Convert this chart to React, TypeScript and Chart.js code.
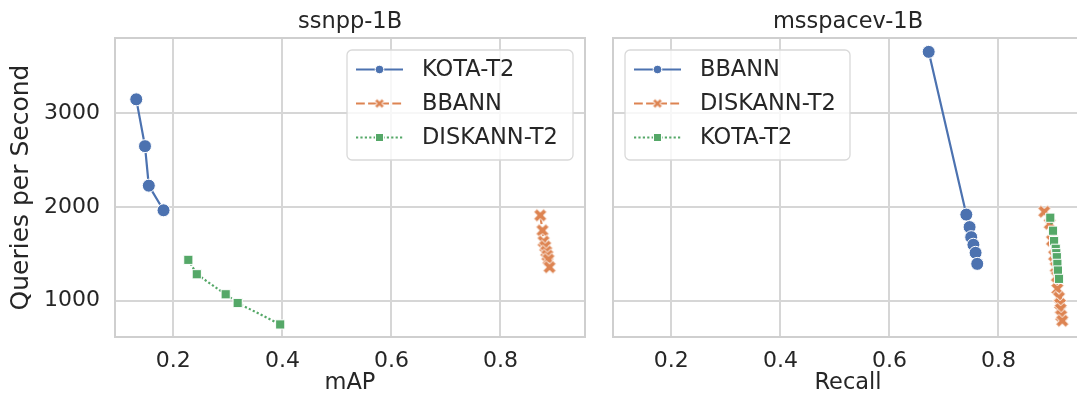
import React, { useEffect, useRef } from 'react';
import { Chart, registerables } from 'chart.js';

Chart.register(...registerables);

// ---------------- data ----------------
const leftTitle = 'ssnpp-1B';
const rightTitle = 'msspacev-1B';
const leftXLabel = 'mAP';
const rightXLabel = 'Recall';
const yAxisLabel = 'Queries per Second';
const xTickValues = [0.2, 0.4, 0.6, 0.8];
const yTickValues = [1000, 2000, 3000];

// ssnpp-1B (x = mAP)
const leftSeriesNames = ['KOTA-T2', 'BBANN', 'DISKANN-T2'];
const ssnppKotaMap = [0.132, 0.148, 0.155, 0.182];
const ssnppKotaQps = [3150, 2650, 2228, 1965];
const ssnppBbannMap = [0.873, 0.877, 0.879, 0.882, 0.884, 0.886, 0.888, 0.89];
const ssnppBbannQps = [1911, 1750, 1632, 1579, 1525, 1482, 1440, 1357];
const ssnppDiskannMap = [0.2275, 0.243, 0.296, 0.318, 0.396];
const ssnppDiskannQps = [1436, 1282, 1068, 975, 746];

// msspacev-1B (x = Recall)
const rightSeriesNames = ['BBANN', 'DISKANN-T2', 'KOTA-T2'];
const msBbannRecall = [0.672, 0.741, 0.747, 0.75, 0.754, 0.758, 0.761];
const msBbannQps = [3657, 1919, 1786, 1678, 1597, 1511, 1393];
const msDiskannRecall = [0.884, 0.894, 0.898, 0.902, 0.905, 0.907, 0.908, 0.911, 0.913, 0.914, 0.915, 0.917];
const msDiskannQps = [1950, 1822, 1643, 1482, 1357, 1257, 1125, 1035, 965, 911, 839, 786];
const msKotaRecall = [0.895, 0.9, 0.902, 0.905, 0.906, 0.907, 0.908, 0.909, 0.911];
const msKotaQps = [1886, 1747, 1636, 1554, 1507, 1464, 1393, 1322, 1233];

// ---------------- styles ----------------
const FONT = '"DejaVu Sans", "Liberation Sans", sans-serif';
const TEXT = '#262626';
const GRID = '#d6d6d6';
const PALETTE = ['#4C72B0', '#DD8452', '#55A868'];
const LW = 2.2;
const DASHES = [[], [4 * LW, 1.5 * LW], [LW, LW]];
const X_MIN = 0.093;
const X_MAX = 0.955;
const Y_MIN = 612;
const Y_MAX = 3805;

function makeXMarker(size: number, color: string, dim: number) {
  const c = document.createElement('canvas');
  c.width = dim;
  c.height = dim;
  const ctx = c.getContext('2d') as CanvasRenderingContext2D;
  const pts = [[-1, -2], [0, -1], [1, -2], [2, -1], [1, 0], [2, 1], [1, 2], [0, 1], [-1, 2], [-2, 1], [-1, 0], [-2, -1]];
  ctx.translate(dim / 2, dim / 2);
  ctx.beginPath();
  pts.forEach(([px, py], i) => {
    const x = (px / 4) * size;
    const y = (py / 4) * size;
    if (i === 0) ctx.moveTo(x, y);
    else ctx.lineTo(x, y);
  });
  ctx.closePath();
  ctx.fillStyle = color;
  ctx.fill();
  ctx.strokeStyle = '#ffffff';
  ctx.lineWidth = 1;
  ctx.stroke();
  return c;
}

const toPoints = (xs: number[], ys: number[]) => xs.map((x, i) => ({ x, y: ys[i] }));

function series(label: string, xs: number[], ys: number[], idx: number, xMarker: HTMLCanvasElement, legendX: HTMLCanvasElement) {
  const color = PALETTE[idx];
  const style = idx === 0 ? 'circle' : idx === 1 ? xMarker : 'rect';
  return {
    label,
    data: toPoints(xs, ys),
    borderColor: color,
    backgroundColor: color,
    borderWidth: LW,
    borderDash: DASHES[idx],
    pointStyle: style,
    pointBackgroundColor: color,
    pointBorderColor: '#ffffff',
    pointBorderWidth: 1,
    pointRadius: 6.5,
    pointHoverRadius: 6.5,
    tension: 0,
    fill: false,
    order: 3 - idx,
    legendKind: idx,
    legendX,
  };
}

const framePlugin = {
  id: 'frame',
  beforeDatasetsDraw(chart: any) {
    const { ctx, chartArea } = chart;
    ctx.save();
    ctx.strokeStyle = '#cfcfcf';
    ctx.lineWidth = 2;
    const l = Math.round(chartArea.left);
    const t = Math.round(chartArea.top);
    const r = Math.round(chartArea.right);
    const b = Math.round(chartArea.bottom);
    ctx.strokeRect(l, t, r - l, b - t);
    ctx.restore();
  },
};

const innerLegendPlugin = {
  id: 'innerLegend',
  afterDatasetsDraw(chart: any, _args: any, opts: any) {
    const { ctx, chartArea } = chart;
    const boxW = opts.width;
    const boxH = 110;
    const left = opts.side === 'right' ? chartArea.right - 12 - boxW : chartArea.left + 12;
    const top = chartArea.top + 12;
    ctx.save();
    const rad = 5;
    ctx.beginPath();
    ctx.moveTo(left + rad, top);
    ctx.lineTo(left + boxW - rad, top);
    ctx.arcTo(left + boxW, top, left + boxW, top + rad, rad);
    ctx.lineTo(left + boxW, top + boxH - rad);
    ctx.arcTo(left + boxW, top + boxH, left + boxW - rad, top + boxH, rad);
    ctx.lineTo(left + rad, top + boxH);
    ctx.arcTo(left, top + boxH, left, top + boxH - rad, rad);
    ctx.lineTo(left, top + rad);
    ctx.arcTo(left, top, left + rad, top, rad);
    ctx.closePath();
    ctx.fillStyle = 'rgba(255,255,255,0.8)';
    ctx.fill();
    ctx.strokeStyle = '#d9d9d9';
    ctx.lineWidth = 1.3;
    ctx.stroke();

    chart.data.datasets.forEach((ds: any, i: number) => {
      const y = top + 19.5 + i * 34;
      const color = ds.borderColor;
      ctx.beginPath();
      ctx.setLineDash(ds.borderDash || []);
      ctx.strokeStyle = color;
      ctx.lineWidth = ds.borderWidth;
      ctx.moveTo(left + 9, y);
      ctx.lineTo(left + 56, y);
      ctx.stroke();
      ctx.setLineDash([]);
      const mx = left + 32.5;
      if (ds.legendKind === 0) {
        ctx.beginPath();
        ctx.arc(mx, y, 4.3, 0, Math.PI * 2);
        ctx.fillStyle = color;
        ctx.fill();
        ctx.strokeStyle = '#fff';
        ctx.lineWidth = 1;
        ctx.stroke();
      } else if (ds.legendKind === 1) {
        const img = ds.legendX;
        ctx.drawImage(img, mx - img.width / 2, y - img.height / 2);
      } else {
        ctx.fillStyle = color;
        ctx.fillRect(mx - 4, y - 4, 8, 8);
        ctx.strokeStyle = '#fff';
        ctx.lineWidth = 1;
        ctx.strokeRect(mx - 4, y - 4, 8, 8);
      }
      ctx.fillStyle = TEXT;
      ctx.font = `22.5px ${FONT}`;
      ctx.textAlign = 'left';
      ctx.textBaseline = 'middle';
      ctx.fillText(ds.label, left + 75, y + 1);
    });
    ctx.restore();
  },
};

function buildOptions(cfg: { title: string; xLabel: string; showY: boolean; yWidth: number; side: string; legendWidth: number }) {
  return {
    responsive: false,
    animation: false,
    events: [],
    layout: { padding: { left: 0, right: 15, top: 0, bottom: 0 } },
    plugins: {
      legend: { display: false },
      tooltip: { enabled: false },
      title: {
        display: true,
        text: cfg.title,
        fullSize: false,
        color: TEXT,
        font: { family: FONT, size: 22.5, weight: 'normal' },
        padding: { top: 9, bottom: 2 },
      },
      innerLegend: { side: cfg.side, width: cfg.legendWidth },
    },
    scales: {
      x: {
        type: 'linear',
        min: X_MIN,
        max: X_MAX,
        afterBuildTicks: (s: any) => {
          s.ticks = xTickValues.map((v) => ({ value: v }));
        },
        afterFit: (s: any) => {
          s.height = 63;
        },
        grid: { color: GRID, lineWidth: 2, drawTicks: false },
        border: { display: false },
        ticks: {
          padding: 11,
          color: TEXT,
          font: { family: FONT, size: 22 },
          maxRotation: 0,
          callback: (v: any) => Number(v).toFixed(1),
        },
        title: {
          display: true,
          text: cfg.xLabel,
          color: TEXT,
          font: { family: FONT, size: 22.5 },
          padding: { top: 0, bottom: 3.5 },
        },
      },
      y: {
        type: 'linear',
        min: Y_MIN,
        max: Y_MAX,
        afterBuildTicks: (s: any) => {
          s.ticks = yTickValues.map((v) => ({ value: v }));
        },
        afterFit: (s: any) => {
          s.width = cfg.yWidth;
        },
        grid: { color: GRID, lineWidth: 2, drawTicks: false },
        border: { display: false },
        ticks: {
          display: cfg.showY,
          padding: 15,
          color: TEXT,
          font: { family: FONT, size: 22 },
          callback: (v: any) => String(v),
        },
        title: {
          display: cfg.showY,
          text: yAxisLabel,
          color: TEXT,
          font: { family: FONT, size: 25 },
          padding: { top: 6, bottom: 0 },
        },
      },
    },
  };
}

export default function App() {
  const leftRef = useRef<HTMLCanvasElement | null>(null);
  const rightRef = useRef<HTMLCanvasElement | null>(null);

  useEffect(() => {
    const xMarker = makeXMarker(13, PALETTE[1], 16);
    const legendX = makeXMarker(9.5, PALETTE[1], 12);

    const left = new Chart(leftRef.current as HTMLCanvasElement, {
      type: 'line',
      data: {
        datasets: [
          series(leftSeriesNames[0], ssnppKotaMap, ssnppKotaQps, 0, xMarker, legendX),
          series(leftSeriesNames[1], ssnppBbannMap, ssnppBbannQps, 1, xMarker, legendX),
          series(leftSeriesNames[2], ssnppDiskannMap, ssnppDiskannQps, 2, xMarker, legendX),
        ] as any,
      },
      options: buildOptions({ title: leftTitle, xLabel: leftXLabel, showY: true, yWidth: 115, side: 'right', legendWidth: 226 }) as any,
      plugins: [framePlugin, innerLegendPlugin],
    });

    const right = new Chart(rightRef.current as HTMLCanvasElement, {
      type: 'line',
      data: {
        datasets: [
          series(rightSeriesNames[0], msBbannRecall, msBbannQps, 0, xMarker, legendX),
          series(rightSeriesNames[1], msDiskannRecall, msDiskannQps, 1, xMarker, legendX),
          series(rightSeriesNames[2], msKotaRecall, msKotaQps, 2, xMarker, legendX),
        ] as any,
      },
      options: buildOptions({ title: rightTitle, xLabel: rightXLabel, showY: false, yWidth: 13, side: 'left', legendWidth: 225 }) as any,
      plugins: [framePlugin, innerLegendPlugin],
    });

    return () => {
      left.destroy();
      right.destroy();
    };
  }, []);

  return (
    <div
      style={{
        position: 'fixed',
        left: 0,
        top: 0,
        width: 1077,
        height: 400,
        overflow: 'hidden',
        background: '#ffffff',
      }}
    >
      <canvas ref={leftRef} width={600} height={400} style={{ position: 'absolute', left: 0, top: 0, width: 600, height: 400 }} />
      <canvas ref={rightRef} width={498} height={400} style={{ position: 'absolute', left: 600, top: 0, width: 498, height: 400 }} />
    </div>
  );
}
